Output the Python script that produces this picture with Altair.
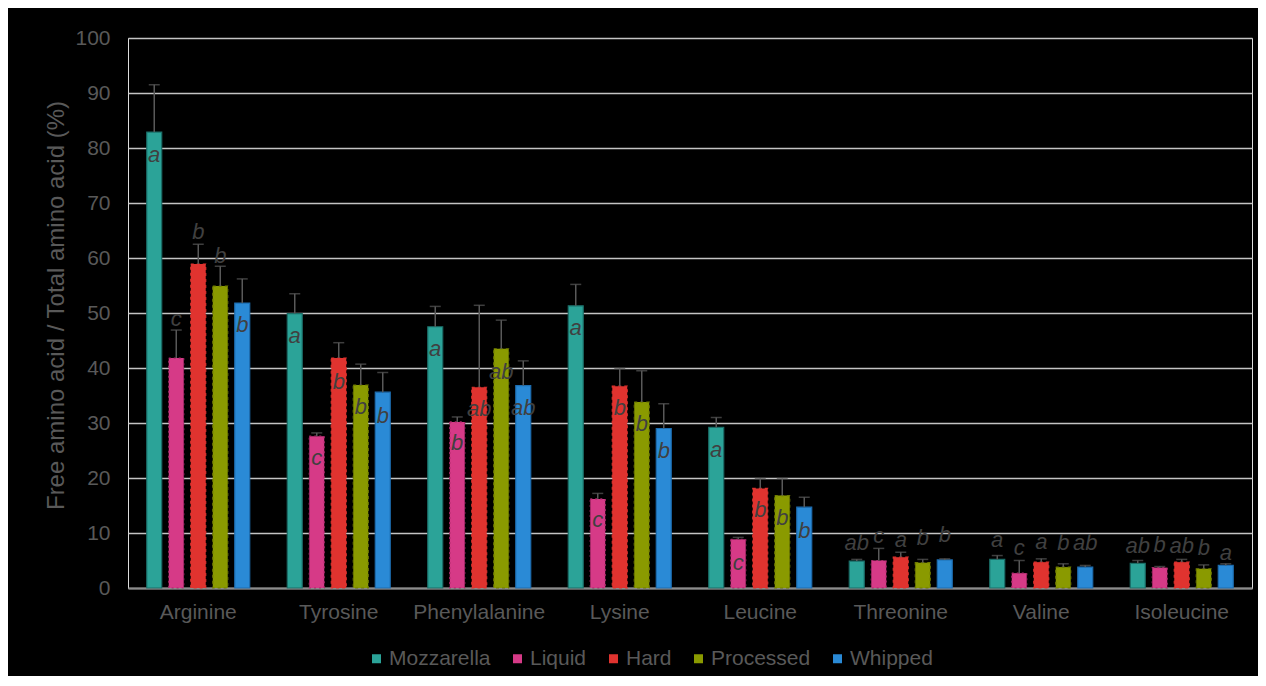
import altair as alt
import pandas as pd

categories = ["Arginine", "Tyrosine", "Phenylalanine", "Lysine", "Leucine",
              "Threonine", "Valine", "Isoleucine"]
series = ["Mozzarella", "Liquid", "Hard", "Processed", "Whipped"]

mozzarella = [82.9, 49.9, 47.5, 51.3, 29.2, 4.9, 5.2, 4.5]
liquid = [41.8, 27.6, 30.2, 16.2, 8.85, 5.0, 2.7, 3.7]
hard = [58.9, 41.8, 36.5, 36.7, 18.1, 5.6, 4.7, 4.7]
processed = [54.9, 36.9, 43.5, 33.8, 16.8, 4.6, 3.8, 3.5]
whipped = [51.8, 35.6, 36.8, 29.0, 14.7, 5.1, 3.8, 4.1]

mozzarella_err = [91.5, 53.5, 51.2, 55.2, 31.0, 5.2, 5.9, 5.0]
liquid_err = [46.9, 28.2, 31.1, 17.2, 9.2, 7.2, 5.0, 3.9]
hard_err = [62.5, 44.6, 51.4, 39.9, 19.9, 6.5, 5.3, 5.2]
processed_err = [58.5, 40.7, 48.7, 39.5, 19.9, 5.2, 4.4, 4.2]
whipped_err = [56.2, 39.2, 41.3, 33.5, 16.5, 5.3, 4.1, 4.4]

mozzarella_letters = ["a", "a", "a", "a", "a", "ab", "a", "ab"]
liquid_letters = ["c", "c", "b", "c", "c", "c", "c", "b"]
hard_letters = ["b", "b", "ab", "b", "b", "a", "a", "ab"]
processed_letters = ["b", "b", "ab", "b", "b", "b", "b", "b"]
whipped_letters = ["b", "b", "ab", "b", "b", "b", "ab", "a"]

mozzarella_label_y = [78.7, 45.8, 43.5, 47.3, 25.1, 8.2, 8.7, 7.6]
liquid_label_y = [49.0, 23.6, 26.4, 12.4, 4.6, 9.5, 7.3, 7.8]
hard_label_y = [64.8, 37.5, 32.5, 32.7, 14.2, 8.7, 8.4, 7.6]
processed_label_y = [60.4, 33.0, 39.3, 29.8, 12.7, 9.1, 8.2, 7.2]
whipped_label_y = [47.8, 31.3, 32.7, 25.0, 10.4, 9.6, 8.1, 6.3]

colors = ["#2ba398", "#d63a87", "#e0332f", "#8a9a00", "#2a8ad6"]
stroke_colors = ["#1b6f69", "#a8286a", "#e0332f", "#6e7a00", "#1d6db0"]

values = [mozzarella, liquid, hard, processed, whipped]
errs = [mozzarella_err, liquid_err, hard_err, processed_err, whipped_err]
letters = [mozzarella_letters, liquid_letters, hard_letters, processed_letters, whipped_letters]
label_ys = [mozzarella_label_y, liquid_label_y, hard_label_y, processed_label_y, whipped_label_y]

rows = []
for s, v, e, l, ly in zip(series, values, errs, letters, label_ys):
    for i, c in enumerate(categories):
        rows.append({"amino": c, "series": s, "value": v[i], "err": e[i],
                     "letter": l[i], "label_y": ly[i]})
df = pd.DataFrame(rows)

text_gray = "#595959"
FONT = "Liberation Sans"

x_enc = alt.X("amino:N", sort=categories, title=None,
              scale=alt.Scale(paddingInner=0.217, paddingOuter=0.1085),
              axis=alt.Axis(labelAngle=0, labelFontSize=21, labelColor=text_gray,
                            labelFont=FONT, ticks=False, tickSize=0, labelPadding=13,
                            domainColor="#8c8c8c", domainWidth=2, grid=False))
xoff_enc = alt.XOffset("series:N", sort=series,
                       scale=alt.Scale(paddingInner=0.32, paddingOuter=0.16))

y_scale = alt.Scale(domain=[0, 100], nice=False)

base = alt.Chart(df).encode(x=x_enc, xOffset=xoff_enc)

bars = base.mark_bar().encode(
    y=alt.Y("value:Q", scale=y_scale, title="Free amino acid / Total amino acid (%)",
            axis=alt.Axis(values=list(range(0, 101, 10)), grid=True, gridColor="#c4c4c4",
                          gridWidth=1.5, domain=False, ticks=False, tickSize=0,
                          labelPadding=18, labelFontSize=21, labelColor=text_gray,
                          labelFont=FONT, titleFont=FONT, titleFontSize=24,
                          titleFontWeight="normal", titleColor=text_gray,
                          titleAngle=-90, titleX=-65, titleY=267,
                          titleAlign="center", titleBaseline="alphabetic")),
    color=alt.Color("series:N", sort=series,
                    scale=alt.Scale(domain=series, range=colors),
                    legend=alt.Legend(title=None, orient="none", direction="horizontal",
                                      legendX=238, legendY=610, symbolType="square",
                                      symbolSize=81, symbolStrokeWidth=0,
                                      labelFontSize=21, labelColor=text_gray,
                                      labelFont=FONT, labelOffset=2, columnPadding=16,
                                      padding=0)),
    stroke=alt.Stroke("series:N", scale=alt.Scale(domain=series, range=stroke_colors),
                      legend=None),
    strokeDash=alt.StrokeDash("series:N",
                              scale=alt.Scale(domain=series,
                                              range=[[1, 0], [2, 3], [3, 3], [3, 3], [1, 0]]),
                              legend=None),
    strokeWidth=alt.value(1.2),
)

rules = base.mark_rule(color=text_gray, strokeWidth=1.5).encode(
    y=alt.Y("value:Q", scale=y_scale), y2="err:Q")

caps = base.mark_tick(color=text_gray, thickness=1.5, size=11).encode(
    y=alt.Y("err:Q", scale=y_scale))

labels = base.mark_text(fontStyle="italic", fontSize=22, color="#404040",
                        font=FONT, baseline="middle").encode(
    y=alt.Y("label_y:Q", scale=y_scale), text="letter:N")

chart = alt.layer(bars, rules, caps, labels).properties(
    width=1124, height=550, background="#000000",
    autosize=alt.AutoSizeParams(type="none"),
    padding={"left": 120, "top": 30, "right": 6, "bottom": 88},
).configure_view(stroke=None).configure(font=FONT)

chart.save("out.html", embed_options={"renderer": "svg", "actions": False})
